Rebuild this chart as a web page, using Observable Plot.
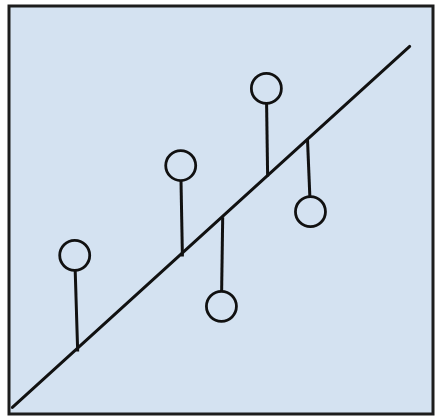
<!DOCTYPE html>
<html>
<head>
<meta charset="utf-8">
<script src="https://cdn.jsdelivr.net/npm/d3@7"></script>
<script src="https://cdn.jsdelivr.net/npm/@observablehq/plot@0.6"></script>
<style>
  html, body { margin: 0; padding: 0; background: #ffffff; }
  #chart svg { display: block; }
</style>
</head>
<body>
<div id="chart"></div>
<script>
// Observed points
const pointX = [1.55, 4.05, 5.01, 6.07, 7.11];
const pointY = [3.89, 6.09, 2.64, 7.98, 4.96];
// Foot of each residual on the fitted line
const footX = [1.62, 4.09, 5.04, 6.10, 7.04];
const footY = [1.53, 3.86, 4.82, 5.82, 6.73];
// Fitted regression line end points
const lineX = [0.08, 9.45];
const lineY = [0.16, 9.01];

const points = pointX.map((x, i) => ({x, y: pointY[i], fx: footX[i], fy: footY[i]}));
const fit = lineX.map((x, i) => ({x, y: lineY[i]}));

const chart = Plot.plot({
  width: 436,
  height: 417,
  marginLeft: 8.5,
  marginRight: 3.5,
  marginTop: 5.5,
  marginBottom: 3.5,
  x: {domain: [0, 10], axis: null},
  y: {domain: [0, 10], axis: null},
  marks: [
    Plot.frame({fill: "#d4e2f1"}),
    Plot.line(fit, {x: "x", y: "y", stroke: "#111", strokeWidth: 3}),
    Plot.link(points, {x1: "x", y1: "y", x2: "fx", y2: "fy", stroke: "#111", strokeWidth: 3}),
    Plot.dot(points, {x: "x", y: "y", r: 15, fill: "#d4e2f1", stroke: "#111", strokeWidth: 2.8}),
    Plot.frame({stroke: "#1c1c1c", strokeWidth: 3})
  ]
});
document.getElementById("chart").appendChild(chart);
</script>
</body>
</html>
